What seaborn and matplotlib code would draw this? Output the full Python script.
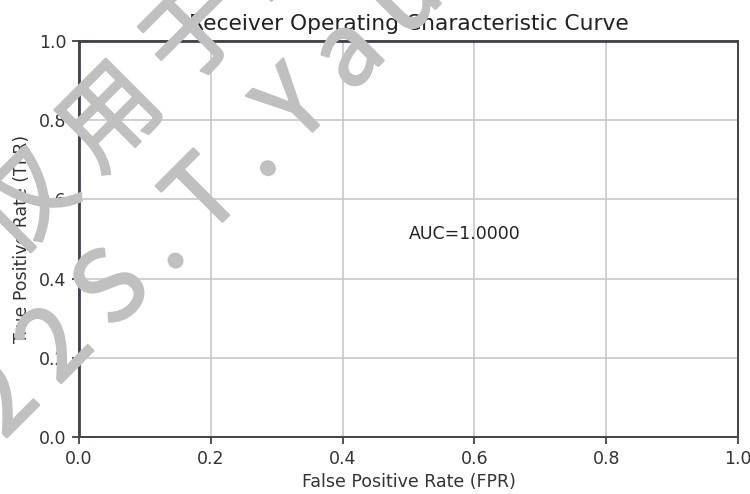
import numpy as np
import pandas as pd
import matplotlib
matplotlib.use("Agg")
import matplotlib.pyplot as plt
import matplotlib.patheffects as pe
import seaborn as sns

# ---- data ----
fpr = [0.0, 0.0, 1.0]
tpr = [0.0, 1.0, 1.0]
auc_value = 1.0
x_ticks = [0.0, 0.2, 0.4, 0.6, 0.8, 1.0]
y_ticks = [0.0, 0.2, 0.4, 0.6, 0.8, 1.0]
title_text = "Receiver Operating Characteristic Curve"
x_label = "False Positive Rate (FPR)"
y_label = "True Positive Rate (TPR)"
watermark = "仅 用 于 2 0 2 2 S . T . Y a u"

sns.set_style("ticks")
plt.rcParams["font.family"] = ["DejaVu Sans"]

W, H = 750, 494
fig = plt.figure(figsize=(W / 100, H / 100), dpi=100)
ax = fig.add_axes([79 / W, 1 - 437 / H, (738 - 79) / W, (437 - 41) / H])

df = pd.DataFrame({"fpr": fpr, "tpr": tpr})
sns.lineplot(data=df, x="fpr", y="tpr", ax=ax, estimator=None, sort=False,
             color="#2a2a80", lw=1.9, zorder=2)

ax.set_xlim(0, 1)
ax.set_ylim(0, 1)
ax.set_xticks(x_ticks)
ax.set_yticks(y_ticks)
ax.set_xticklabels([f"{v:.1f}" for v in x_ticks])
ax.set_yticklabels([f"{v:.1f}" for v in y_ticks])
ax.tick_params(axis="both", labelsize=12.5, length=5, width=1.2,
               color="#333333", labelcolor="#333333", pad=4)
ax.grid(True, color="#c4c4c4", lw=1.1)
ax.set_axisbelow(True)
for s in ax.spines.values():
    s.set_visible(True)
    s.set_color("#444444")
    s.set_linewidth(1.4)
    s.set_zorder(2.5)

ax.set_title(title_text, fontsize=15.7, color="#222222", pad=8)
ax.set_xlabel(x_label, fontsize=12.5, color="#333333", labelpad=4)
ax.set_ylabel(y_label, fontsize=12.5, color="#333333", labelpad=6)
ax.text(0.5, 0.5, f"AUC={auc_value:.4f}", fontsize=12.5, color="#222222")

WM_COLOR = "#c0c0c0"


def place_wm(s, k, px, py):
    """Place watermark string s so the gap before character k sits at pixel (px, py)."""
    kw = dict(fontsize=71, color=WM_COLOR, rotation=45,
              rotation_mode="anchor", va="baseline",
              family=["Noto Sans CJK SC", "DejaVu Sans"], zorder=10,
              path_effects=[pe.withStroke(linewidth=1.8, foreground=WM_COLOR)])
    fx, fy = px / W, 1 - py / H
    fig.text(fx, fy, s[:k].rstrip(), ha="right", **kw)
    fig.text(fx, fy, s[k - 1:], ha="left", **kw)


# line with "S.T. Yau" (anchored at the gap before "S")
k_s = watermark.index("S")
place_wm(watermark, k_s, 97, 347)
# upper line (anchored at the gap before "用")
k_y = watermark.index("用")
place_wm(watermark, k_y, 82, 190)

fig.savefig("out.png", dpi=100)
